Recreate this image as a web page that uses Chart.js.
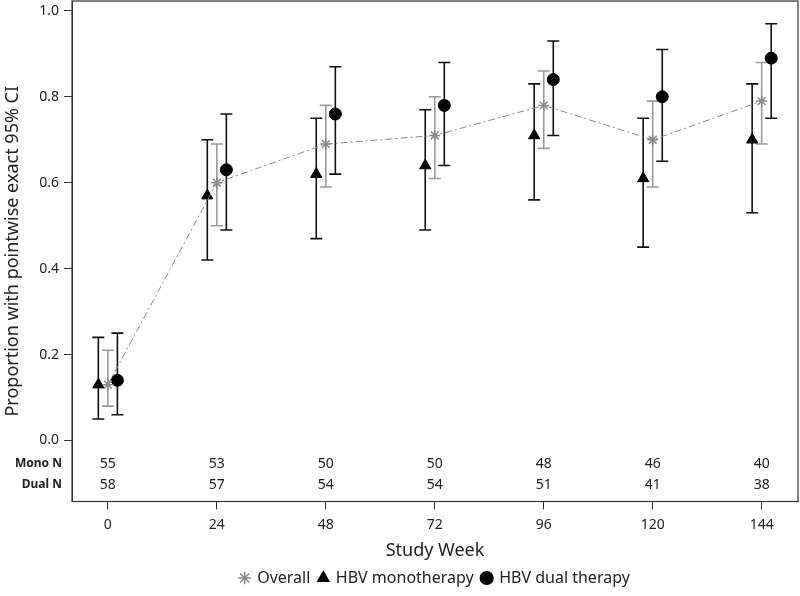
<!DOCTYPE html>
<html>
<head>
<meta charset="utf-8">
<script src="https://cdn.jsdelivr.net/npm/chart.js@4"></script>
<style>
html,body{margin:0;padding:0;background:#fff;}
</style>
</head>
<body>
<canvas id="c" width="800" height="596"></canvas>
<script>
// study weeks and per-group estimates (proportion + exact 95% CI)
const weeks=[0,24,48,72,96,120,144];
const overall=[0.13,0.60,0.69,0.71,0.78,0.70,0.79];
const overallLo=[0.08,0.50,0.59,0.61,0.68,0.59,0.69];
const overallHi=[0.21,0.69,0.78,0.80,0.86,0.79,0.88];
const mono=[0.13,0.57,0.62,0.64,0.71,0.61,0.70];
const monoLo=[0.05,0.42,0.47,0.49,0.56,0.45,0.53];
const monoHi=[0.24,0.70,0.75,0.77,0.83,0.75,0.83];
const dual=[0.14,0.63,0.76,0.78,0.84,0.80,0.89];
const dualLo=[0.06,0.49,0.62,0.64,0.71,0.65,0.75];
const dualHi=[0.25,0.76,0.87,0.88,0.93,0.91,0.97];
const monoN=[55,53,50,50,48,46,40];
const dualN=[58,57,54,54,51,41,38];
const yTicks=[0,0.2,0.4,0.6,0.8,1.0];

const font="'Noto Sans', 'Open Sans', sans-serif";
const shift=2.1; // weeks the groups are nudged left/right

const pts=(vals,dx)=>vals.map((v,i)=>({x:weeks[i]+dx,y:v}));

const bars=[
    {dx:-shift,lo:monoLo,hi:monoHi,color:'#111'},
    {dx:0,lo:overallLo,hi:overallHi,color:'#9a9a9a'},
    {dx:shift,lo:dualLo,hi:dualHi,color:'#111'}
];

const errorBars={
    id:'errorBars',
    beforeDatasetsDraw:(chart)=>{
        const ctx=chart.ctx, xs=chart.scales.x, ys=chart.scales.y;
        ctx.save();
        ctx.lineWidth=1.6;
        bars.forEach(b=>{
            ctx.strokeStyle=b.color;
            weeks.forEach((w,i)=>{
                const x=xs.getPixelForValue(w+b.dx);
                const y1=ys.getPixelForValue(b.lo[i]);
                const y2=ys.getPixelForValue(b.hi[i]);
                ctx.beginPath();
                ctx.moveTo(x,y1);ctx.lineTo(x,y2);
                ctx.moveTo(x-6,y1);ctx.lineTo(x+6,y1);
                ctx.moveTo(x-6,y2);ctx.lineTo(x+6,y2);
                ctx.stroke();
            });
        });
        ctx.restore();
    }
};

const frameAndTable={
    id:'frameAndTable',
    afterDraw:(chart)=>{
        const ctx=chart.ctx, a=chart.chartArea, xs=chart.scales.x, ys=chart.scales.y;
        ctx.save();
        ctx.strokeStyle='#333';
        ctx.lineWidth=1.2;
        ctx.strokeRect(a.left,a.top,a.right-a.left,a.bottom-a.top);
        const rows=[['Mono N',monoN,-0.054],['Dual N',dualN,-0.103]];
        ctx.fillStyle='#222';
        ctx.textBaseline='middle';
        rows.forEach(r=>{
            const y=ys.getPixelForValue(r[2]);
            ctx.font='bold 12px '+font;
            ctx.textAlign='right';
            ctx.fillText(r[0],a.left-10,y);
            ctx.font='14px '+font;
            ctx.textAlign='center';
            r[1].forEach((n,i)=>ctx.fillText(String(n),xs.getPixelForValue(weeks[i]),y));
        });
        ctx.restore();
    }
};

new Chart(document.getElementById('c'),{
    type:'scatter',
    data:{
        datasets:[{
            label:'Overall',
            data:pts(overall,0),
            showLine:true,
            borderColor:'#8a8a8a',
            backgroundColor:'#8a8a8a',
            borderWidth:1,
            borderDash:[7,3,2,3],
            pointStyle:'star',
            pointRadius:5.5,
            pointBorderWidth:1.5,
            order:1
        },{
            label:'HBV monotherapy',
            data:pts(mono,-shift),
            borderColor:'#000',
            backgroundColor:'#000',
            pointStyle:'triangle',
            pointRadius:6.5,
            pointBorderWidth:1,
            order:2
        },{
            label:'HBV dual therapy',
            data:pts(dual,shift),
            borderColor:'#000',
            backgroundColor:'#000',
            pointStyle:'circle',
            pointRadius:6,
            pointBorderWidth:1,
            order:3
        }]
    },
    options:{
        responsive:false,
        animation:false,
        layout:{autoPadding:false,padding:{left:0,right:2,top:1,bottom:0}},
        plugins:{
            tooltip:{enabled:false},
            legend:{
                position:'bottom',
                fullSize:false,
                labels:{
                    usePointStyle:true,
                    boxWidth:9,
                    boxHeight:9,
                    padding:8.5,
                    color:'#222',
                    font:{family:font,size:16},
                    generateLabels:(chart)=>{
                        const items=Chart.defaults.plugins.legend.labels.generateLabels(chart);
                        items.forEach(it=>{it.lineDash=[];it.lineWidth=1.5;});
                        return items;
                    }
                }
            }
        },
        scales:{
            x:{
                type:'linear',
                position:'bottom',
                min:-7.9,
                max:152,
                afterBuildTicks:(s)=>{s.ticks=weeks.map(v=>({value:v}));},
                afterFit:(s)=>{s.height=60;s.paddingLeft=0;s.paddingRight=0;},
                ticks:{color:'#222',font:{family:font,size:14},padding:7,callback:(v)=>String(v)},
                grid:{display:true,drawOnChartArea:false,drawTicks:true,tickLength:8,tickColor:'#333'},
                border:{display:true,color:'#333',width:1},
                title:{display:true,text:'Study Week',color:'#222',font:{family:font,size:18},padding:{top:0,bottom:0}}
            },
            y:{
                min:-0.142,
                max:1.023,
                afterBuildTicks:(s)=>{s.ticks=yTicks.map(v=>({value:v}));},
                afterFit:(s)=>{s.width=72;s.paddingTop=0;s.paddingBottom=0;},
                ticks:{color:'#222',font:{family:font,size:14},padding:5,callback:(v)=>Number(v).toFixed(1)},
                grid:{display:true,drawOnChartArea:false,drawTicks:true,tickLength:8,tickColor:'#333'},
                border:{display:true,color:'#333',width:1},
                title:{display:true,text:'Proportion with pointwise exact 95% CI',color:'#222',font:{family:font,size:18},padding:{top:2,bottom:0}}
            }
        }
    },
    plugins:[errorBars,frameAndTable]
});
</script>
</body>
</html>
